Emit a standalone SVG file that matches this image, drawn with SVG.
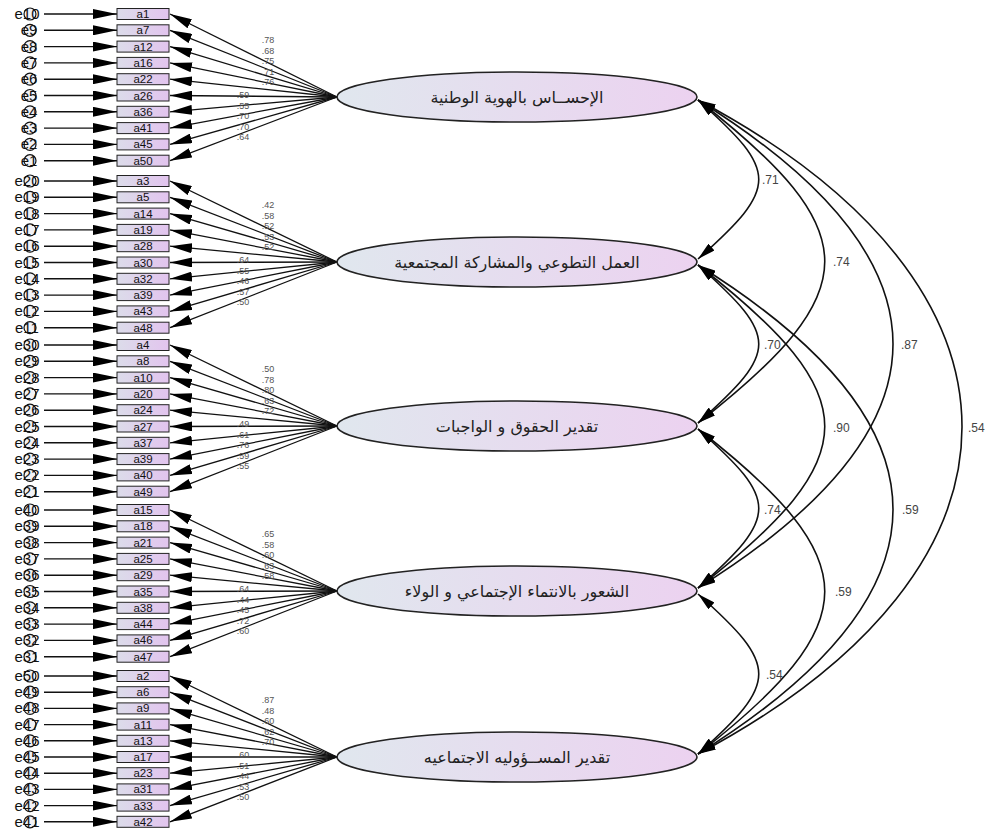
<svg xmlns="http://www.w3.org/2000/svg" width="1000" height="834" viewBox="0 0 1000 834">
<defs>
<linearGradient id="gb" x1="0" y1="0" x2="1" y2="0"><stop offset="0" stop-color="#dcdcea"/><stop offset="1" stop-color="#e2c4ee"/></linearGradient>
<linearGradient id="ge" x1="0" y1="0" x2="1" y2="0"><stop offset="0" stop-color="#e0e7ee"/><stop offset="1" stop-color="#ecd2f0"/></linearGradient>
<marker id="mE" markerUnits="userSpaceOnUse" viewBox="0 0 24 10" markerWidth="24" markerHeight="10" refX="24" refY="5" orient="auto"><path d="M0,0L24,5L0,10z" fill="#000"/></marker>
<marker id="mL" markerUnits="userSpaceOnUse" viewBox="0 0 22 10" markerWidth="22" markerHeight="10" refX="22" refY="5" orient="auto"><path d="M0,0L22,5L0,10z" fill="#000"/></marker>
<marker id="mC" markerUnits="userSpaceOnUse" viewBox="0 0 18 9" markerWidth="18" markerHeight="9" refX="18" refY="4.5" orient="auto-start-reverse"><path d="M0,0L18,4.5L0,9z" fill="#000"/></marker>
</defs>
<style>
.box{fill:url(#gb);stroke:#222;stroke-width:1}
.bt{font-family:"Liberation Sans",Arial,sans-serif;font-size:11.5px;text-anchor:middle;fill:#111}
.err{fill:#f2f2f6;stroke:#111;stroke-width:1.2}
.et{font-family:"Liberation Sans",Arial,sans-serif;font-size:15px;text-anchor:middle;fill:#111}
.lat{fill:url(#ge);stroke:#222;stroke-width:1.6}
.lt{font-family:"DejaVu Sans",sans-serif;font-size:16px;text-anchor:middle;fill:#222}
.ea{stroke:#111;stroke-width:1.4;marker-end:url(#mE)}
.la{stroke:#111;stroke-width:1.3;marker-end:url(#mL)}
.cv{fill:none;stroke:#111;stroke-width:1.6;marker-start:url(#mC);marker-end:url(#mC)}
.ll{font-family:"Liberation Sans",Arial,sans-serif;font-size:9px;fill:#555;text-anchor:middle}
.cl{font-family:"Liberation Sans",Arial,sans-serif;font-size:12px;fill:#444}
</style>
<rect width="1000" height="834" fill="#fff"/>

<g id="connectors">
<line class="ea" x1="44" y1="14" x2="117" y2="14"/><line class="ea" x1="44" y1="30.3" x2="117" y2="30.3"/><line class="ea" x1="44" y1="46.6" x2="117" y2="46.6"/><line class="ea" x1="44" y1="62.9" x2="117" y2="62.9"/><line class="ea" x1="44" y1="79.2" x2="117" y2="79.2"/><line class="ea" x1="44" y1="95.5" x2="117" y2="95.5"/><line class="ea" x1="44" y1="111.8" x2="117" y2="111.8"/><line class="ea" x1="44" y1="128.1" x2="117" y2="128.1"/><line class="ea" x1="44" y1="144.4" x2="117" y2="144.4"/><line class="ea" x1="44" y1="160.7" x2="117" y2="160.7"/>
<line class="ea" x1="44" y1="181" x2="117" y2="181"/><line class="ea" x1="44" y1="197.3" x2="117" y2="197.3"/><line class="ea" x1="44" y1="213.6" x2="117" y2="213.6"/><line class="ea" x1="44" y1="229.9" x2="117" y2="229.9"/><line class="ea" x1="44" y1="246.2" x2="117" y2="246.2"/><line class="ea" x1="44" y1="262.5" x2="117" y2="262.5"/><line class="ea" x1="44" y1="278.8" x2="117" y2="278.8"/><line class="ea" x1="44" y1="295.1" x2="117" y2="295.1"/><line class="ea" x1="44" y1="311.4" x2="117" y2="311.4"/><line class="ea" x1="44" y1="327.7" x2="117" y2="327.7"/>
<line class="ea" x1="44" y1="345" x2="117" y2="345"/><line class="ea" x1="44" y1="361.3" x2="117" y2="361.3"/><line class="ea" x1="44" y1="377.6" x2="117" y2="377.6"/><line class="ea" x1="44" y1="393.9" x2="117" y2="393.9"/><line class="ea" x1="44" y1="410.2" x2="117" y2="410.2"/><line class="ea" x1="44" y1="426.5" x2="117" y2="426.5"/><line class="ea" x1="44" y1="442.8" x2="117" y2="442.8"/><line class="ea" x1="44" y1="459.1" x2="117" y2="459.1"/><line class="ea" x1="44" y1="475.4" x2="117" y2="475.4"/><line class="ea" x1="44" y1="491.7" x2="117" y2="491.7"/>
<line class="ea" x1="44" y1="510" x2="117" y2="510"/><line class="ea" x1="44" y1="526.3" x2="117" y2="526.3"/><line class="ea" x1="44" y1="542.6" x2="117" y2="542.6"/><line class="ea" x1="44" y1="558.9" x2="117" y2="558.9"/><line class="ea" x1="44" y1="575.2" x2="117" y2="575.2"/><line class="ea" x1="44" y1="591.5" x2="117" y2="591.5"/><line class="ea" x1="44" y1="607.8" x2="117" y2="607.8"/><line class="ea" x1="44" y1="624.1" x2="117" y2="624.1"/><line class="ea" x1="44" y1="640.4" x2="117" y2="640.4"/><line class="ea" x1="44" y1="656.7" x2="117" y2="656.7"/>
<line class="ea" x1="44" y1="676" x2="117" y2="676"/><line class="ea" x1="44" y1="692.2" x2="117" y2="692.2"/><line class="ea" x1="44" y1="708.4" x2="117" y2="708.4"/><line class="ea" x1="44" y1="724.6" x2="117" y2="724.6"/><line class="ea" x1="44" y1="740.8" x2="117" y2="740.8"/><line class="ea" x1="44" y1="757" x2="117" y2="757"/><line class="ea" x1="44" y1="773.2" x2="117" y2="773.2"/><line class="ea" x1="44" y1="789.4" x2="117" y2="789.4"/><line class="ea" x1="44" y1="805.6" x2="117" y2="805.6"/><line class="ea" x1="44" y1="821.8" x2="117" y2="821.8"/>
<line class="la" x1="337" y1="97" x2="170" y2="14"/><line class="la" x1="337" y1="97" x2="170" y2="30.3"/><line class="la" x1="337" y1="97" x2="170" y2="46.6"/><line class="la" x1="337" y1="97" x2="170" y2="62.9"/><line class="la" x1="337" y1="97" x2="170" y2="79.2"/><line class="la" x1="337" y1="97" x2="170" y2="95.5"/><line class="la" x1="337" y1="97" x2="170" y2="111.8"/><line class="la" x1="337" y1="97" x2="170" y2="128.1"/><line class="la" x1="337" y1="97" x2="170" y2="144.4"/><line class="la" x1="337" y1="97" x2="170" y2="160.7"/>
<line class="la" x1="337" y1="262" x2="170" y2="181"/><line class="la" x1="337" y1="262" x2="170" y2="197.3"/><line class="la" x1="337" y1="262" x2="170" y2="213.6"/><line class="la" x1="337" y1="262" x2="170" y2="229.9"/><line class="la" x1="337" y1="262" x2="170" y2="246.2"/><line class="la" x1="337" y1="262" x2="170" y2="262.5"/><line class="la" x1="337" y1="262" x2="170" y2="278.8"/><line class="la" x1="337" y1="262" x2="170" y2="295.1"/><line class="la" x1="337" y1="262" x2="170" y2="311.4"/><line class="la" x1="337" y1="262" x2="170" y2="327.7"/>
<line class="la" x1="337" y1="426" x2="170" y2="345"/><line class="la" x1="337" y1="426" x2="170" y2="361.3"/><line class="la" x1="337" y1="426" x2="170" y2="377.6"/><line class="la" x1="337" y1="426" x2="170" y2="393.9"/><line class="la" x1="337" y1="426" x2="170" y2="410.2"/><line class="la" x1="337" y1="426" x2="170" y2="426.5"/><line class="la" x1="337" y1="426" x2="170" y2="442.8"/><line class="la" x1="337" y1="426" x2="170" y2="459.1"/><line class="la" x1="337" y1="426" x2="170" y2="475.4"/><line class="la" x1="337" y1="426" x2="170" y2="491.7"/>
<line class="la" x1="337" y1="591" x2="170" y2="510"/><line class="la" x1="337" y1="591" x2="170" y2="526.3"/><line class="la" x1="337" y1="591" x2="170" y2="542.6"/><line class="la" x1="337" y1="591" x2="170" y2="558.9"/><line class="la" x1="337" y1="591" x2="170" y2="575.2"/><line class="la" x1="337" y1="591" x2="170" y2="591.5"/><line class="la" x1="337" y1="591" x2="170" y2="607.8"/><line class="la" x1="337" y1="591" x2="170" y2="624.1"/><line class="la" x1="337" y1="591" x2="170" y2="640.4"/><line class="la" x1="337" y1="591" x2="170" y2="656.7"/>
<line class="la" x1="337" y1="757" x2="170" y2="676"/><line class="la" x1="337" y1="757" x2="170" y2="692.2"/><line class="la" x1="337" y1="757" x2="170" y2="708.4"/><line class="la" x1="337" y1="757" x2="170" y2="724.6"/><line class="la" x1="337" y1="757" x2="170" y2="740.8"/><line class="la" x1="337" y1="757" x2="170" y2="757"/><line class="la" x1="337" y1="757" x2="170" y2="773.2"/><line class="la" x1="337" y1="757" x2="170" y2="789.4"/><line class="la" x1="337" y1="757" x2="170" y2="805.6"/><line class="la" x1="337" y1="757" x2="170" y2="821.8"/>
<path class="cv" d="M698,100 C779,172 779,187 698,259"/>
<path class="cv" d="M698,100 C867,232 867,291 698,423"/>
<path class="cv" d="M698,100 C958,262 958,426 698,588"/>
<path class="cv" d="M698,100 C1050,287 1050,567 698,754"/>
<path class="cv" d="M698,265 C779,337 779,351 698,423"/>
<path class="cv" d="M698,265 C867,397 867,456 698,588"/>
<path class="cv" d="M698,265 C958,427 958,592 698,754"/>
<path class="cv" d="M698,429 C779,501 779,516 698,588"/>
<path class="cv" d="M698,429 C867,561 867,622 698,754"/>
<path class="cv" d="M698,594 C779,666 779,682 698,754"/>
<text class="ll" x="268" y="43">.78</text><text class="ll" x="268" y="53.5">.68</text><text class="ll" x="268" y="64">.75</text><text class="ll" x="268" y="74.5">.71</text><text class="ll" x="268" y="85">.76</text>
<text class="ll" x="243" y="98">.59</text><text class="ll" x="243" y="108.5">.55</text><text class="ll" x="243" y="119">.70</text><text class="ll" x="243" y="129.5">.70</text><text class="ll" x="243" y="140">.64</text>
<text class="ll" x="268" y="208">.42</text><text class="ll" x="268" y="218.5">.58</text><text class="ll" x="268" y="229">.52</text><text class="ll" x="268" y="239.5">.53</text><text class="ll" x="268" y="250">.52</text>
<text class="ll" x="243" y="263">.64</text><text class="ll" x="243" y="273.5">.55</text><text class="ll" x="243" y="284">.46</text><text class="ll" x="243" y="294.5">.57</text><text class="ll" x="243" y="305">.50</text>
<text class="ll" x="268" y="372">.50</text><text class="ll" x="268" y="382.5">.78</text><text class="ll" x="268" y="393">.80</text><text class="ll" x="268" y="403.5">.63</text><text class="ll" x="268" y="414">.72</text>
<text class="ll" x="243" y="427">.49</text><text class="ll" x="243" y="437.5">.61</text><text class="ll" x="243" y="448">.76</text><text class="ll" x="243" y="458.5">.59</text><text class="ll" x="243" y="469">.55</text>
<text class="ll" x="268" y="537">.65</text><text class="ll" x="268" y="547.5">.58</text><text class="ll" x="268" y="558">.60</text><text class="ll" x="268" y="568.5">.63</text><text class="ll" x="268" y="579">.58</text>
<text class="ll" x="243" y="592">.64</text><text class="ll" x="243" y="602.5">.44</text><text class="ll" x="243" y="613">.45</text><text class="ll" x="243" y="623.5">.72</text><text class="ll" x="243" y="634">.60</text>
<text class="ll" x="268" y="703">.87</text><text class="ll" x="268" y="713.5">.48</text><text class="ll" x="268" y="724">.60</text><text class="ll" x="268" y="734.5">.62</text><text class="ll" x="268" y="745">.70</text>
<text class="ll" x="243" y="758">.60</text><text class="ll" x="243" y="768.5">.51</text><text class="ll" x="243" y="779">.44</text><text class="ll" x="243" y="789.5">.53</text><text class="ll" x="243" y="800">.50</text>
<text class="cl" x="762" y="184">.71</text><text class="cl" x="833" y="266">.74</text><text class="cl" x="901" y="349">.87</text><text class="cl" x="968" y="432">.54</text>
<text class="cl" x="764" y="349">.70</text><text class="cl" x="833" y="432">.90</text><text class="cl" x="902" y="514">.59</text>
<text class="cl" x="764" y="514">.74</text><text class="cl" x="835" y="596">.59</text><text class="cl" x="766" y="679">.54</text>
</g>

<g id="errors">
<g id="e10"><circle class="err" cx="30" cy="14" r="6"/><text class="et" x="27" y="19">e10</text></g>
<g id="e9"><circle class="err" cx="30" cy="30.3" r="6"/><text class="et" x="29" y="35.3">e9</text></g>
<g id="e8"><circle class="err" cx="30" cy="46.6" r="6"/><text class="et" x="29" y="51.6">e8</text></g>
<g id="e7"><circle class="err" cx="30" cy="62.9" r="6"/><text class="et" x="29" y="67.9">e7</text></g>
<g id="e6"><circle class="err" cx="30" cy="79.2" r="6"/><text class="et" x="29" y="84.2">e6</text></g>
<g id="e5"><circle class="err" cx="30" cy="95.5" r="6"/><text class="et" x="29" y="100.5">e5</text></g>
<g id="e4"><circle class="err" cx="30" cy="111.8" r="6"/><text class="et" x="29" y="116.8">e4</text></g>
<g id="e3"><circle class="err" cx="30" cy="128.1" r="6"/><text class="et" x="29" y="133.1">e3</text></g>
<g id="e2"><circle class="err" cx="30" cy="144.4" r="6"/><text class="et" x="29" y="149.4">e2</text></g>
<g id="e1"><circle class="err" cx="30" cy="160.7" r="6"/><text class="et" x="29" y="165.7">e1</text></g>
<g id="e20"><circle class="err" cx="30" cy="181" r="6"/><text class="et" x="27" y="186">e20</text></g>
<g id="e19"><circle class="err" cx="30" cy="197.3" r="6"/><text class="et" x="27" y="202.3">e19</text></g>
<g id="e18"><circle class="err" cx="30" cy="213.6" r="6"/><text class="et" x="27" y="218.6">e18</text></g>
<g id="e17"><circle class="err" cx="30" cy="229.9" r="6"/><text class="et" x="27" y="234.9">e17</text></g>
<g id="e16"><circle class="err" cx="30" cy="246.2" r="6"/><text class="et" x="27" y="251.2">e16</text></g>
<g id="e15"><circle class="err" cx="30" cy="262.5" r="6"/><text class="et" x="27" y="267.5">e15</text></g>
<g id="e14"><circle class="err" cx="30" cy="278.8" r="6"/><text class="et" x="27" y="283.8">e14</text></g>
<g id="e13"><circle class="err" cx="30" cy="295.1" r="6"/><text class="et" x="27" y="300.1">e13</text></g>
<g id="e12"><circle class="err" cx="30" cy="311.4" r="6"/><text class="et" x="27" y="316.4">e12</text></g>
<g id="e11"><circle class="err" cx="30" cy="327.7" r="6"/><text class="et" x="27" y="332.7">e11</text></g>
<g id="e30"><circle class="err" cx="30" cy="345" r="6"/><text class="et" x="27" y="350">e30</text></g>
<g id="e29"><circle class="err" cx="30" cy="361.3" r="6"/><text class="et" x="27" y="366.3">e29</text></g>
<g id="e28"><circle class="err" cx="30" cy="377.6" r="6"/><text class="et" x="27" y="382.6">e28</text></g>
<g id="e27"><circle class="err" cx="30" cy="393.9" r="6"/><text class="et" x="27" y="398.9">e27</text></g>
<g id="e26"><circle class="err" cx="30" cy="410.2" r="6"/><text class="et" x="27" y="415.2">e26</text></g>
<g id="e25"><circle class="err" cx="30" cy="426.5" r="6"/><text class="et" x="27" y="431.5">e25</text></g>
<g id="e24"><circle class="err" cx="30" cy="442.8" r="6"/><text class="et" x="27" y="447.8">e24</text></g>
<g id="e23"><circle class="err" cx="30" cy="459.1" r="6"/><text class="et" x="27" y="464.1">e23</text></g>
<g id="e22"><circle class="err" cx="30" cy="475.4" r="6"/><text class="et" x="27" y="480.4">e22</text></g>
<g id="e21"><circle class="err" cx="30" cy="491.7" r="6"/><text class="et" x="27" y="496.7">e21</text></g>
<g id="e40"><circle class="err" cx="30" cy="510" r="6"/><text class="et" x="27" y="515">e40</text></g>
<g id="e39"><circle class="err" cx="30" cy="526.3" r="6"/><text class="et" x="27" y="531.3">e39</text></g>
<g id="e38"><circle class="err" cx="30" cy="542.6" r="6"/><text class="et" x="27" y="547.6">e38</text></g>
<g id="e37"><circle class="err" cx="30" cy="558.9" r="6"/><text class="et" x="27" y="563.9">e37</text></g>
<g id="e36"><circle class="err" cx="30" cy="575.2" r="6"/><text class="et" x="27" y="580.2">e36</text></g>
<g id="e35"><circle class="err" cx="30" cy="591.5" r="6"/><text class="et" x="27" y="596.5">e35</text></g>
<g id="e34"><circle class="err" cx="30" cy="607.8" r="6"/><text class="et" x="27" y="612.8">e34</text></g>
<g id="e33"><circle class="err" cx="30" cy="624.1" r="6"/><text class="et" x="27" y="629.1">e33</text></g>
<g id="e32"><circle class="err" cx="30" cy="640.4" r="6"/><text class="et" x="27" y="645.4">e32</text></g>
<g id="e31"><circle class="err" cx="30" cy="656.7" r="6"/><text class="et" x="27" y="661.7">e31</text></g>
<g id="e50"><circle class="err" cx="30" cy="676" r="6"/><text class="et" x="27" y="681">e50</text></g>
<g id="e49"><circle class="err" cx="30" cy="692.2" r="6"/><text class="et" x="27" y="697.2">e49</text></g>
<g id="e48"><circle class="err" cx="30" cy="708.4" r="6"/><text class="et" x="27" y="713.4">e48</text></g>
<g id="e47"><circle class="err" cx="30" cy="724.6" r="6"/><text class="et" x="27" y="729.6">e47</text></g>
<g id="e46"><circle class="err" cx="30" cy="740.8" r="6"/><text class="et" x="27" y="745.8">e46</text></g>
<g id="e45"><circle class="err" cx="30" cy="757" r="6"/><text class="et" x="27" y="762">e45</text></g>
<g id="e44"><circle class="err" cx="30" cy="773.2" r="6"/><text class="et" x="27" y="778.2">e44</text></g>
<g id="e43"><circle class="err" cx="30" cy="789.4" r="6"/><text class="et" x="27" y="794.4">e43</text></g>
<g id="e42"><circle class="err" cx="30" cy="805.6" r="6"/><text class="et" x="27" y="810.6">e42</text></g>
<g id="e41"><circle class="err" cx="30" cy="821.8" r="6"/><text class="et" x="27" y="826.8">e41</text></g>
</g>

<g id="items">
<g id="a1"><rect class="box" x="117" y="8.5" width="52" height="11"/><text class="bt" x="143" y="18">a1</text></g>
<g id="a7"><rect class="box" x="117" y="24.8" width="52" height="11"/><text class="bt" x="143" y="34.3">a7</text></g>
<g id="a12"><rect class="box" x="117" y="41.1" width="52" height="11"/><text class="bt" x="143" y="50.6">a12</text></g>
<g id="a16"><rect class="box" x="117" y="57.4" width="52" height="11"/><text class="bt" x="143" y="66.9">a16</text></g>
<g id="a22"><rect class="box" x="117" y="73.7" width="52" height="11"/><text class="bt" x="143" y="83.2">a22</text></g>
<g id="a26"><rect class="box" x="117" y="90" width="52" height="11"/><text class="bt" x="143" y="99.5">a26</text></g>
<g id="a36"><rect class="box" x="117" y="106.3" width="52" height="11"/><text class="bt" x="143" y="115.8">a36</text></g>
<g id="a41"><rect class="box" x="117" y="122.6" width="52" height="11"/><text class="bt" x="143" y="132.1">a41</text></g>
<g id="a45"><rect class="box" x="117" y="138.9" width="52" height="11"/><text class="bt" x="143" y="148.4">a45</text></g>
<g id="a50"><rect class="box" x="117" y="155.2" width="52" height="11"/><text class="bt" x="143" y="164.7">a50</text></g>
<g id="a3"><rect class="box" x="117" y="175.5" width="52" height="11"/><text class="bt" x="143" y="185">a3</text></g>
<g id="a5"><rect class="box" x="117" y="191.8" width="52" height="11"/><text class="bt" x="143" y="201.3">a5</text></g>
<g id="a14"><rect class="box" x="117" y="208.1" width="52" height="11"/><text class="bt" x="143" y="217.6">a14</text></g>
<g id="a19"><rect class="box" x="117" y="224.4" width="52" height="11"/><text class="bt" x="143" y="233.9">a19</text></g>
<g id="a28"><rect class="box" x="117" y="240.7" width="52" height="11"/><text class="bt" x="143" y="250.2">a28</text></g>
<g id="a30"><rect class="box" x="117" y="257" width="52" height="11"/><text class="bt" x="143" y="266.5">a30</text></g>
<g id="a32"><rect class="box" x="117" y="273.3" width="52" height="11"/><text class="bt" x="143" y="282.8">a32</text></g>
<g id="a39b"><rect class="box" x="117" y="289.6" width="52" height="11"/><text class="bt" x="143" y="299.1">a39</text></g>
<g id="a43"><rect class="box" x="117" y="305.9" width="52" height="11"/><text class="bt" x="143" y="315.4">a43</text></g>
<g id="a48"><rect class="box" x="117" y="322.2" width="52" height="11"/><text class="bt" x="143" y="331.7">a48</text></g>
<g id="a4"><rect class="box" x="117" y="339.5" width="52" height="11"/><text class="bt" x="143" y="349">a4</text></g>
<g id="a8"><rect class="box" x="117" y="355.8" width="52" height="11"/><text class="bt" x="143" y="365.3">a8</text></g>
<g id="a10"><rect class="box" x="117" y="372.1" width="52" height="11"/><text class="bt" x="143" y="381.6">a10</text></g>
<g id="a20"><rect class="box" x="117" y="388.4" width="52" height="11"/><text class="bt" x="143" y="397.9">a20</text></g>
<g id="a24"><rect class="box" x="117" y="404.7" width="52" height="11"/><text class="bt" x="143" y="414.2">a24</text></g>
<g id="a27"><rect class="box" x="117" y="421" width="52" height="11"/><text class="bt" x="143" y="430.5">a27</text></g>
<g id="a37"><rect class="box" x="117" y="437.3" width="52" height="11"/><text class="bt" x="143" y="446.8">a37</text></g>
<g id="a39"><rect class="box" x="117" y="453.6" width="52" height="11"/><text class="bt" x="143" y="463.1">a39</text></g>
<g id="a40"><rect class="box" x="117" y="469.9" width="52" height="11"/><text class="bt" x="143" y="479.4">a40</text></g>
<g id="a49"><rect class="box" x="117" y="486.2" width="52" height="11"/><text class="bt" x="143" y="495.7">a49</text></g>
<g id="a15"><rect class="box" x="117" y="504.5" width="52" height="11"/><text class="bt" x="143" y="514">a15</text></g>
<g id="a18"><rect class="box" x="117" y="520.8" width="52" height="11"/><text class="bt" x="143" y="530.3">a18</text></g>
<g id="a21"><rect class="box" x="117" y="537.1" width="52" height="11"/><text class="bt" x="143" y="546.6">a21</text></g>
<g id="a25"><rect class="box" x="117" y="553.4" width="52" height="11"/><text class="bt" x="143" y="562.9">a25</text></g>
<g id="a29"><rect class="box" x="117" y="569.7" width="52" height="11"/><text class="bt" x="143" y="579.2">a29</text></g>
<g id="a35"><rect class="box" x="117" y="586" width="52" height="11"/><text class="bt" x="143" y="595.5">a35</text></g>
<g id="a38"><rect class="box" x="117" y="602.3" width="52" height="11"/><text class="bt" x="143" y="611.8">a38</text></g>
<g id="a44"><rect class="box" x="117" y="618.6" width="52" height="11"/><text class="bt" x="143" y="628.1">a44</text></g>
<g id="a46"><rect class="box" x="117" y="634.9" width="52" height="11"/><text class="bt" x="143" y="644.4">a46</text></g>
<g id="a47"><rect class="box" x="117" y="651.2" width="52" height="11"/><text class="bt" x="143" y="660.7">a47</text></g>
<g id="a2"><rect class="box" x="117" y="670.5" width="52" height="11"/><text class="bt" x="143" y="680">a2</text></g>
<g id="a6"><rect class="box" x="117" y="686.7" width="52" height="11"/><text class="bt" x="143" y="696.2">a6</text></g>
<g id="a9"><rect class="box" x="117" y="702.9" width="52" height="11"/><text class="bt" x="143" y="712.4">a9</text></g>
<g id="a11"><rect class="box" x="117" y="719.1" width="52" height="11"/><text class="bt" x="143" y="728.6">a11</text></g>
<g id="a13"><rect class="box" x="117" y="735.3" width="52" height="11"/><text class="bt" x="143" y="744.8">a13</text></g>
<g id="a17"><rect class="box" x="117" y="751.5" width="52" height="11"/><text class="bt" x="143" y="761">a17</text></g>
<g id="a23"><rect class="box" x="117" y="767.7" width="52" height="11"/><text class="bt" x="143" y="777.2">a23</text></g>
<g id="a31"><rect class="box" x="117" y="783.9" width="52" height="11"/><text class="bt" x="143" y="793.4">a31</text></g>
<g id="a33"><rect class="box" x="117" y="800.1" width="52" height="11"/><text class="bt" x="143" y="809.6">a33</text></g>
<g id="a42"><rect class="box" x="117" y="816.3" width="52" height="11"/><text class="bt" x="143" y="825.8">a42</text></g>
</g>

<g id="factors">
<g id="F1"><ellipse class="lat" cx="517" cy="97" rx="180" ry="25"/><text class="lt" x="517" y="103">الإحســاس بالهوية الوطنية</text></g>
<g id="F2"><ellipse class="lat" cx="517" cy="262" rx="180" ry="25"/><text class="lt" x="517" y="268">العمل التطوعي والمشاركة المجتمعية</text></g>
<g id="F3"><ellipse class="lat" cx="517" cy="426" rx="180" ry="25"/><text class="lt" x="517" y="432">تقدير الحقوق و الواجبات</text></g>
<g id="F4"><ellipse class="lat" cx="517" cy="591" rx="180" ry="25"/><text class="lt" x="517" y="597">الشعور بالانتماء الإجتماعي و الولاء</text></g>
<g id="F5"><ellipse class="lat" cx="517" cy="757" rx="180" ry="25"/><text class="lt" x="517" y="763">تقدير المســؤوليه الاجتماعيه</text></g>
</g>
</svg>
